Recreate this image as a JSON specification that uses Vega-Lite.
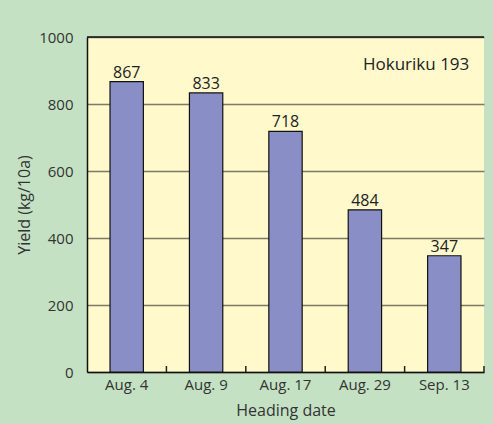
{
  "$schema": "https://vega.github.io/schema/vega-lite/v6.json",
  "width": 397,
  "height": 335,
  "autosize": {"type": "none"},
  "padding": {"left": 87, "top": 37, "right": 9, "bottom": 52},
  "background": "#c4e2c3",
  "config": {
    "view": {"fill": "#fff9cb", "stroke": null},
    "font": "Open Sans",
    "axis": {"labelColor": "#333333", "titleColor": "#333333", "labelFont": "Open Sans", "titleFont": "Open Sans", "titleFontWeight": "normal"}
  },
  "layer": [
    {
      "data": {"values": [
        {"date": "Aug. 4", "yield": 867},
        {"date": "Aug. 9", "yield": 833},
        {"date": "Aug. 17", "yield": 718},
        {"date": "Aug. 29", "yield": 484},
        {"date": "Sep. 13", "yield": 347}
      ]},
      "layer": [
        {
          "mark": {"type": "bar", "color": "#8a8ec6", "stroke": "#111111", "strokeWidth": 1.2},
          "encoding": {
            "x": {"field": "date", "type": "nominal",
                  "scale": {"domain": ["Aug. 4", "Aug. 9", "Aug. 17", "Aug. 29", "Sep. 13"], "paddingInner": 0.58, "paddingOuter": 0.29},
                  "axis": {"title": "Heading date", "labelAngle": 0, "labelFontSize": 15, "titleFontSize": 16,
                           "domainColor": "#111111", "domainWidth": 1.5, "ticks": false,
                           "labelPadding": 5, "titlePadding": 10}},
            "y": {"field": "yield", "type": "quantitative",
                  "scale": {"domain": [0, 1000]},
                  "axis": {"title": "Yield (kg/10a)", "values": [0, 200, 400, 600, 800, 1000], "format": "d", "labelFontSize": 15, "titleFontSize": 16,
                           "gridColor": "#7d7a66", "gridWidth": 1.5, "domainColor": "#111111", "domainWidth": 1.5,
                           "ticks": false, "labelPadding": 14, "titlePadding": 6}}
          }
        },
        {
          "mark": {"type": "text", "baseline": "alphabetic", "dy": -4, "fontSize": 16, "color": "#222222"},
          "encoding": {
            "x": {"field": "date", "type": "nominal"},
            "y": {"field": "yield", "type": "quantitative"},
            "text": {"field": "yield", "type": "quantitative"}
          }
        },
        {
          "transform": [{"filter": "datum.date !== 'Aug. 4'"}],
          "mark": {"type": "rule", "color": "#222222", "strokeWidth": 1.5},
          "encoding": {
            "x": {"field": "date", "type": "nominal", "bandPosition": -0.69},
            "y": {"datum": 0},
            "y2": {"datum": 18}
          }
        },
        {
          "transform": [{"filter": "datum.date === 'Sep. 13'"}],
          "mark": {"type": "rule", "color": "#222222", "strokeWidth": 1.5},
          "encoding": {
            "x": {"field": "date", "type": "nominal", "bandPosition": 1.69},
            "y": {"datum": 0},
            "y2": {"datum": 18}
          }
        }
      ]
    },
    {
      "data": {"values": [{"label": "Hokuriku 193", "d": "Sep. 13", "v": 915}]},
      "mark": {"type": "text", "align": "right", "baseline": "middle", "xOffset": 25, "fontSize": 17, "color": "#222222"},
      "encoding": {
        "x": {"field": "d", "type": "nominal"},
        "y": {"field": "v", "type": "quantitative"},
        "text": {"field": "label"}
      }
    },
    {
      "data": {"values": [{"top": 1000}]},
      "mark": {"type": "rule", "color": "#111111", "strokeWidth": 1.5},
      "encoding": {"y": {"field": "top", "type": "quantitative"}}
    }
  ]
}
